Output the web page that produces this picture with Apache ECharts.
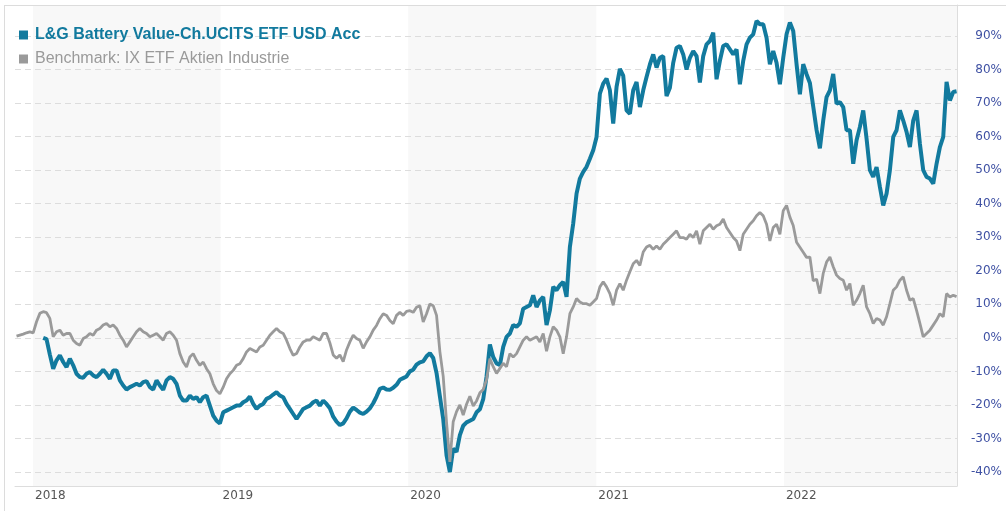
<!DOCTYPE html>
<html>
<head>
<meta charset="utf-8">
<script src="https://cdn.jsdelivr.net/npm/echarts@6/dist/echarts.min.js"></script>
<style>
  html, body { margin: 0; padding: 0; background: #fff; }
  #chart { width: 1006px; height: 511px; }
</style>
</head>
<body>
<div id="chart"></div>
<script>
  // names shown in the legend
  const fundName = 'L&G Battery Value-Ch.UCITS ETF USD Acc'
  const benchName = 'Benchmark: IX ETF Aktien Industrie'

  // points are spaced ~6.5 days apart, counted from startDate
  const startDate = Date.UTC(2017, 10, 17)
  const stepDays = 6.485
  const benchOffset = 2
  const fundOffset = 10

  // performance in %
  const benchValues = [
    0.5, 0.8, 1.1, 1.5, 1.8, 1.5, 4.8, 7.3, 7.8, 7.5,
    5.8, 0.3, 1.8, 2.3, 0.8, 1.3, 1.3, -0.7, -1.7, -2.2,
    -0.2, 0.3, 1.3, 0.8, 2.3, 2.8, 3.8, 4.3, 3.3, 3.8,
    2.8, 0.8, -0.7, -2.7, -1.2, 0.3, 1.8, 2.8, 1.8, 1.3,
    0.3, 0.8, 1.3, 0.3, -0.7, 1.3, 1.8, 0.8, -0.7, -4.7,
    -7.2, -8.7, -5.7, -4.7, -6.7, -8.2, -7.2, -9.2, -10.7, -13.7,
    -15.7, -16.7, -14.7, -12.2, -10.7, -9.7, -8.2, -7.7, -6.2, -4.2,
    -3.2, -3.7, -4.2, -2.7, -2.2, -0.7, 0.8, 1.8, 2.8, 1.8,
    1.3, -0.7, -3.2, -5.2, -4.7, -2.7, -1.2, -0.7, -0.7, 0.3,
    -0.2, -0.7, 1.3, 1.3, -1.5, -5.1, -6.1, -5.1, -7.1, -3.6,
    -1.2, 0.8, -0.2, -0.7, -3.1, -1.2, 0.3, 2.3, 3.7, 5.7,
    7.2, 6.7, 5.2, 4.2, 6.7, 7.6, 6.7, 7.9, 8.1, 7.6,
    9.1, 9.6, 4.7, 7.2, 10.1, 9.6, 6.7, -4.1, -11.5, -25.2,
    -37, -25, -22, -20, -23, -19.8, -17.4, -20.3, -18.8, -16.4,
    -15.4, -12.5, -6.2, -8.6, -10.6, -9.1, -7.6, -8.6, -4.7, -5.7,
    -4.7, -2.7, -0.7, 0.3, -0.7, -0.2, 0.3, -1.2, 1.3, -4,
    0.3, 3.3, 2.3, 0.3, -4.7, 0.3, 7.2, 9.2, 11.7, 10.7,
    10.2, 10.2, 9.7, 10.7, 11.7, 15.2, 16.7, 15.2, 13.2, 9.7,
    14.2, 16.2, 14.2, 17.2, 19.7, 22.1, 23.1, 21.6, 25.6, 27.1,
    27.6, 26.4, 27.4, 26.4, 27.9, 28.9, 29.9, 30.9, 31.9, 29.9,
    29.9, 29.4, 30.9, 29.9, 31.9, 27.9, 31.9, 32.9, 33.9, 32.4,
    33.4, 33.9, 35.4, 32.9, 31.4, 29.9, 28.9, 26, 30.9, 32.4,
    33.9, 34.9, 36.4, 37.4, 36.4, 33.9, 28.9, 32.9, 33.9, 30.9,
    37.9, 39.5, 36, 33.5, 28.5, 27, 25.5, 24, 24.1, 17,
    17.5, 13.2, 19.2, 22.6, 24.1, 21.2, 18.7, 17.7, 17.2, 14.2,
    16.2, 9.7, 11.2, 13.2, 15.7, 9.2, 7.2, 4.3, 5.8, 5.3,
    3.8, 6.3, 10.2, 14.2, 15.2, 17.2, 18.2, 14.2, 11.2, 11.7,
    8.2, 4.3, 0.3, 1.3, 2.3, 3.8, 5.3, 7.2, 6.3, 13.2,
    12.2, 12.7, 12.3
  ]

  const fundValues = [
    0, -0.4, -5, -9.2, -6.7, -5.2, -7.2, -8.7, -6.2, -8.2,
    -10.7, -11.7, -11.9, -10.7, -10.2, -11.2, -11.7, -10.7, -9.5, -10.7,
    -12.2, -9.7, -9.7, -12.7, -14.2, -15.4, -14.7, -14.2, -13.7, -14.2,
    -13.2, -12.9, -14.7, -15.4, -12.7, -14.2, -15.5, -12.7, -11.7, -12.2,
    -13.7, -17.2, -18.7, -18.7, -17.2, -18.2, -17.7, -19.2, -17.7, -17.2,
    -20.2, -23.2, -24.7, -25.5, -22.2, -21.7, -21.2, -20.7, -20.2, -20.2,
    -19.2, -18.7, -17.5, -19.7, -21.2, -20.2, -19.7, -18.2, -17.7, -16.9,
    -16.2, -17.2, -17.7, -19.7, -21.2, -22.7, -24.2, -22.7, -21.2, -20.7,
    -20.2, -19.2, -18.7, -20.2, -18.7, -19.7, -21, -23.5, -25, -26,
    -25.5, -24, -22, -20.8, -21.5, -22.3, -22.7, -22, -21, -19.5,
    -17.5, -15.2, -14.8, -15.4, -15.5, -14.9, -14, -12.5, -12, -11.5,
    -10, -9.5, -8, -7.3, -7, -5.5, -4.6, -6, -10.5, -17.4,
    -24.2, -35, -40, -33, -34, -29, -26.2, -25.2, -24.7, -24.2,
    -22.2, -21.3, -18.3, -11.5, -2, -5.7, -7.6, -8.1, -2.7, 0.3,
    1.3, 3.8, 3.3, 4.3, 8.7, 9.2, 9.7, 12.7, 9.2, 11.2,
    12.2, 3.8, 8.2, 15.2, 14.2, 15.7, 16.7, 12.2, 27.1, 34.1,
    43, 47.5, 49.5, 51, 53.4, 55.9, 59.9, 72.8, 75.8, 77.3,
    73.8, 63.9, 74.8, 80.2, 78.2, 67.8, 66.8, 73.8, 76.3, 68.8,
    73.8, 77.8, 81.5, 84.5, 80.6, 83.5, 84, 72.1, 74.6, 82,
    86.5, 87, 84.5, 80, 83.5, 85.5, 84, 76.1, 84, 87.5,
    88.5, 91, 77.1, 82.6, 87, 87.5, 86, 84.5, 86, 75.6,
    82.6, 87.5, 89.5, 90.5, 94.5, 93.5, 93.5, 89.5, 81.6, 85.5,
    82, 75.6, 83.5, 90.5, 94, 91.5, 81.6, 72.6, 81.6, 78.6,
    76, 69, 62, 56.5, 64.8, 71.8, 73.8, 78.7, 69.8, 70.3,
    68.8, 61.9, 61.9, 51.9, 58.9, 62.9, 67.8, 59.4, 50, 48,
    50.9, 45, 39.5, 43, 50, 59.9, 61.9, 67.8, 64.8, 61.4,
    56.9, 64.8, 67.8, 57.9, 50, 48, 47.5, 46, 51.9, 56.9,
    59.9, 76.3, 70.8, 73.3, 73.5
  ]

  // axis ticks
  const yearTicks = [2018, 2019, 2020, 2021, 2022]
  const percentTicks = [-40, -30, -20, -10, 0, 10, 20, 30, 40, 50, 60, 70, 80, 90]
  // shaded years
  const shadedYears = [2018, 2020, 2022]

  const blue = '#127a9e'
  const grey = '#9a9a9a'
  const dayMs = 86400000
  const xMin = Date.UTC(2017, 10, 27)
  const xMax = Date.UTC(2022, 11, 3, 14)

  function toPoints(values, offset) {
    return values.map((v, i) => [startDate + (offset + i) * stepDays * dayMs, v])
  }

  const yearTimes = yearTicks.map(y => Date.UTC(y, 0, 1))
  const bands = shadedYears.map(y => [
    { xAxis: Date.UTC(y, 0, 1) },
    { xAxis: Math.min(Date.UTC(y + 1, 0, 1), xMax) }
  ])

  const chart = echarts.init(document.getElementById('chart'), null, { renderer: 'canvas' })

  chart.setOption({
    animation: false,
    textStyle: { fontFamily: 'DejaVu Sans' },
    graphic: [
      { type: 'line', silent: true, z: 10, shape: { x1: 4, y1: 5.5, x2: 1006, y2: 5.5 }, style: { stroke: '#dcdcdc', lineWidth: 1 } },
      { type: 'line', silent: true, z: 10, shape: { x1: 4.5, y1: 5, x2: 4.5, y2: 511 }, style: { stroke: '#dcdcdc', lineWidth: 1 } }
    ],
    legend: {
      orient: 'vertical',
      left: 19,
      top: 27,
      padding: 0,
      itemWidth: 9,
      itemHeight: 9,
      itemGap: 8,
      icon: 'rect',
      selectedMode: false,
      textStyle: { fontFamily: 'Liberation Sans', fontSize: 16, padding: [0, 0, 0, 2] },
      data: [
        { name: fundName, textStyle: { color: blue, fontWeight: 'bold' } },
        { name: benchName, textStyle: { color: grey } }
      ]
    },
    grid: { left: 15, right: 49, top: 5, bottom: 25, containLabel: false, outerBoundsMode: 'none' },
    xAxis: {
      type: 'value',
      min: xMin,
      max: xMax,
      axisLine: { onZero: false, lineStyle: { color: '#dddddd' } },
      axisTick: { show: false, customValues: yearTimes },
      axisLabel: {
        customValues: yearTimes,
        formatter: v => String(new Date(v).getUTCFullYear()),
        align: 'left',
        margin: 4,
        padding: [0, 0, 0, 2],
        color: '#555555',
        fontSize: 12,
        fontFamily: 'DejaVu Sans'
      },
      splitLine: { show: false }
    },
    yAxis: {
      type: 'value',
      position: 'right',
      min: -44.17,
      max: 99.24,
      axisLine: { show: true, lineStyle: { color: '#dddddd' } },
      axisTick: { show: false, customValues: percentTicks },
      axisLabel: {
        customValues: percentTicks,
        formatter: '{value}%',
        align: 'right',
        margin: 45,
        color: '#3f51a3',
        fontSize: 12,
        fontFamily: 'DejaVu Sans'
      },
      splitLine: { show: true, lineStyle: { color: '#dddddd', type: [6, 4] } }
    },
    series: [
      {
        name: fundName,
        type: 'line',
        showSymbol: false,
        data: toPoints(fundValues, fundOffset),
        itemStyle: { color: blue },
        lineStyle: { color: blue, width: 4 },
        markArea: {
          silent: true,
          z: -1,
          itemStyle: { color: '#f8f8f8' },
          data: bands
        }
      },
      {
        name: benchName,
        type: 'line',
        showSymbol: false,
        data: toPoints(benchValues, benchOffset),
        itemStyle: { color: grey },
        lineStyle: { color: grey, width: 2.8 }
      }
    ]
  })
</script>
</body>
</html>
